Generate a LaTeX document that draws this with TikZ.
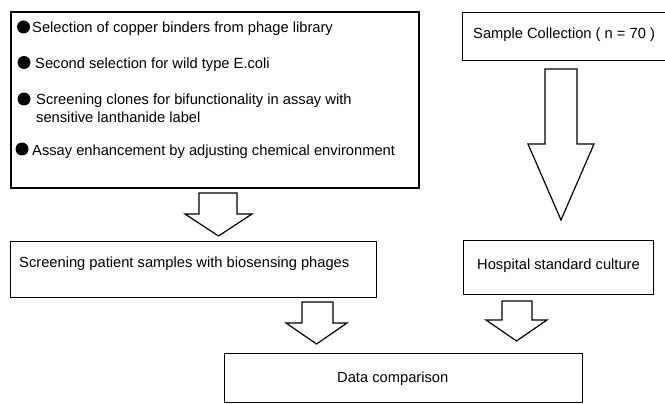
\documentclass[tikz,border=0pt]{standalone}
\usepackage{fontspec}
\setmainfont{Liberation Sans}
\begin{document}
\begin{tikzpicture}[x=1pt,y=-1pt,
  box/.style={draw=black,line width=1.2pt,rectangle,inner sep=0pt},
  txt/.style={inner sep=0pt,anchor=base west,text=black,font=\fontsize{14.7}{17.5}\selectfont},
  bul/.style={circle,fill=black,inner sep=0pt,minimum size=13pt},
  barrow/.style={draw=black,line width=1.2pt,fill=white,line join=miter}]
\useasboundingbox (0,0) rectangle (665,404);
\clip (0,0) rectangle (665,404);
% boxes
\node[box,minimum width=408pt,minimum height=176pt] (steps) at (215,100) {};
\node[box,minimum width=220pt,minimum height=48pt,anchor=north west] (sample) at (462,12) {};
\node[box,minimum width=366pt,minimum height=56pt,anchor=north west] (screen) at (10,241) {};
\node[box,minimum width=190pt,minimum height=54pt,anchor=north west] (hosp) at (463,240) {};
\node[box,minimum width=358pt,minimum height=49pt,anchor=north west] (data) at (224,353) {};
% bullet list
\node[bul] (b1) at (23.5,27) {};
\node[bul] (b2) at (24,62.5) {};
\node[bul] (b3) at (24,99) {};
\node[bul] (b4) at (22,149) {};
\node[txt] (t1) at (32,33) {Selection of copper binders from phage library};
\node[txt] (t2) at (35,68.5) {Second selection for wild type E.coli};
\node[txt] (t3) at (36,105) {Screening clones for bifunctionality in assay with};
\node[txt] (t3b) at (36,123) {sensitive lanthanide label};
\node[txt] (t4) at (32,155) {Assay enhancement by adjusting chemical environment};
% other labels
\node[txt] (ts) at (473,38.5) {Sample Collection ( n = 70 )};
\node[txt] (th) at (477,269) {Hospital standard culture};
\node[txt] (tsc) at (19,267) {Screening patient samples with biosensing phages};
\node[txt] (td) at (337,382) {Data comparison};
% block arrows
\draw[barrow] (199,193) -- (237,193) -- (237,214) -- (252,214) -- (218.5,236) -- (185,214) -- (199,214) -- cycle;
\draw[barrow] (545,69) -- (577,69) -- (577,144) -- (594,144) -- (561,220) -- (528,144) -- (545,144) -- cycle;
\draw[barrow] (302,302) -- (333,302) -- (333,323) -- (347,323) -- (316.5,344) -- (286,323) -- (302,323) -- cycle;
\draw[barrow] (502,301) -- (532,301) -- (532,320) -- (547,320) -- (516.5,341) -- (486,320) -- (502,320) -- cycle;
\end{tikzpicture}
\end{document}
